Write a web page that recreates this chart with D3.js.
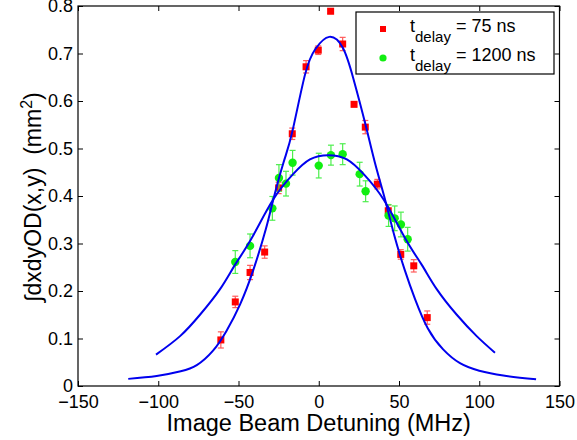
<!DOCTYPE html>
<html>
<head>
<meta charset="utf-8">
<script src="https://cdn.jsdelivr.net/npm/d3@7"></script>
<style>
  html, body { margin: 0; padding: 0; background: #fff; }
  svg { display: block; font-family: "Liberation Sans", Arial, sans-serif; }
  text { white-space: pre; }
</style>
</head>
<body>
<div id="chart"></div>
<script>
// ---- data ----
const xTicks = [-150, -100, -50, 0, 50, 100, 150];
const xTickLabels = ["\u2212150", "\u2212100", "\u221250", "0", "50", "100", "150"];
const yTicks = [0, 0.1, 0.2, 0.3, 0.4, 0.5, 0.6, 0.7, 0.8];
const yTickLabels = ["0", "0.1", "0.2", "0.3", "0.4", "0.5", "0.6", "0.7", "0.8"];

// t_delay = 75 ns (red squares)
const redX   = [-61, -52, -42.8, -33.7, -25, -16.5, -7.9, -0.3, 7.4, 14.9, 22, 29, 36.5, 43.3, 51.1, 59.2, 67.6];
const redY   = [0.097, 0.177, 0.239, 0.282, 0.417, 0.531, 0.672, 0.707, 0.789, 0.720, 0.593, 0.545, 0.425, 0.369, 0.277, 0.253, 0.144];
const redErr = [0.017, 0.012, 0.015, 0.013, 0.012, 0.012, 0.013, 0.009, 0.005, 0.014, 0.005, 0.014, 0.010, 0.012, 0.010, 0.013, 0.014];

// t_delay = 1200 ns (green circles)
const greenX   = [-52, -42.8, -28.9, -24.8, -20.4, -16.3, 0, 7.6, 14.9, 25.5, 29.2, 43.5, 47.3, 51.2, 55.4];
const greenY   = [0.261, 0.295, 0.374, 0.438, 0.426, 0.470, 0.464, 0.486, 0.488, 0.446, 0.410, 0.359, 0.353, 0.340, 0.309];
const greenErr = [0.024, 0.025, 0.025, 0.028, 0.026, 0.026, 0.026, 0.021, 0.022, 0.025, 0.022, 0.023, 0.026, 0.026, 0.025];

// fitted curves
const fitRedX = [-118.7, -101, -86, -76, -66, -57.5, -49, -40.8, -33, -28.5, -22, -16.5, -8.6, -2, 6.5, 15, 21.5, 29, 35, 41.5, 47, 53.5, 60, 68, 77.5, 88, 100, 115, 135.4];
const fitRedY = [0.015, 0.021, 0.031, 0.044, 0.074, 0.116, 0.172, 0.244, 0.330, 0.390, 0.470, 0.535, 0.655, 0.710, 0.735, 0.712, 0.648, 0.552, 0.470, 0.390, 0.318, 0.245, 0.183, 0.121, 0.077, 0.048, 0.032, 0.022, 0.014];
const fitGreenX = [-101.4, -86.4, -74, -61.5, -52.2, -42, -28.5, -16, -5.5, 6, 17.5, 28, 40.5, 54, 64.2, 73.5, 86, 98.4, 109.8];
const fitGreenY = [0.066, 0.105, 0.150, 0.204, 0.255, 0.310, 0.392, 0.446, 0.477, 0.486, 0.477, 0.446, 0.392, 0.310, 0.255, 0.204, 0.150, 0.105, 0.070];

const legendLabels = ["75 ns", "1200 ns"];
const xLabel = "Image Beam Detuning (MHz)";

// ---- drawing ----
const W = 577, H = 440;
const L = 78, R = 559.5, T = 6, B = 386;

const svg = d3.select("#chart").append("svg").attr("width", W).attr("height", H);

const x = d3.scaleLinear().domain([-150, 150]).range([L, R]);
const y = d3.scaleLinear().domain([0, 0.8]).range([B, T]);

// axes
const gx = svg.append("g").attr("transform", `translate(0,${B})`)
  .call(d3.axisBottom(x).tickValues(xTicks).tickFormat((d, i) => xTickLabels[i])
        .tickSizeInner(-5).tickSizeOuter(0).tickPadding(9));
const gxt = svg.append("g").attr("transform", `translate(0,${T})`)
  .call(d3.axisTop(x).tickValues(xTicks).tickFormat("").tickSizeInner(-5).tickSizeOuter(0));
const gy = svg.append("g").attr("transform", `translate(${L},0)`)
  .call(d3.axisLeft(y).tickValues(yTicks).tickFormat((d, i) => yTickLabels[i])
        .tickSizeInner(-5).tickSizeOuter(0).tickPadding(5));
const gyr = svg.append("g").attr("transform", `translate(${R},0)`)
  .call(d3.axisRight(y).tickValues(yTicks).tickFormat("").tickSizeInner(-5).tickSizeOuter(0));

[gx, gxt, gy, gyr].forEach(g => {
  g.selectAll(".domain").remove();
  g.selectAll(".tick line").attr("stroke", "#000").attr("stroke-width", 1);
  g.selectAll("text").attr("font-size", 18).attr("fill", "#000")
    .attr("font-family", "'Liberation Sans', Arial, sans-serif");
});

svg.append("rect").attr("x", L).attr("y", T).attr("width", R - L).attr("height", B - T)
  .attr("fill", "none").attr("stroke", "#000").attr("stroke-width", 1.2);

// error bars + markers
function drawSeries(xs, ys, es, barColor, drawMarker) {
  const g = svg.append("g");
  xs.forEach((xv, i) => {
    const cx = x(xv), y0 = y(ys[i] - es[i]), y1 = y(ys[i] + es[i]);
    g.append("line").attr("x1", cx).attr("x2", cx).attr("y1", y0).attr("y2", y1)
      .attr("stroke", barColor).attr("stroke-width", 1.2);
    [y0, y1].forEach(yy => g.append("line").attr("x1", cx - 3).attr("x2", cx + 3)
      .attr("y1", yy).attr("y2", yy).attr("stroke", barColor).attr("stroke-width", 1.2));
  });
  xs.forEach((xv, i) => drawMarker(g, x(xv), y(ys[i])));
}
const redSquare = (g, cx, cy, s = 7) => g.append("rect").attr("x", cx - s / 2).attr("y", cy - s / 2)
  .attr("width", s).attr("height", s).attr("fill", "#ff0000");
const greenCircle = (g, cx, cy, r = 4.2) => g.append("circle").attr("cx", cx).attr("cy", cy)
  .attr("r", r).attr("fill", "#11ee11");

drawSeries(redX, redY, redErr, "#ff5a5a", redSquare);
drawSeries(greenX, greenY, greenErr, "#4dee4d", greenCircle);

// fit curves
const line = d3.line().x(d => x(d[0])).y(d => y(d[1])).curve(d3.curveNatural);
svg.append("path").datum(d3.zip(fitRedX, fitRedY)).attr("d", line)
  .attr("fill", "none").attr("stroke", "#0000ee").attr("stroke-width", 2);
svg.append("path").datum(d3.zip(fitGreenX, fitGreenY)).attr("d", line)
  .attr("fill", "none").attr("stroke", "#0000ee").attr("stroke-width", 2);

// axis labels
svg.append("text").attr("x", (L + R) / 2).attr("y", 431).attr("text-anchor", "middle")
  .attr("font-size", 23.5).attr("fill", "#000").text(xLabel);

const yl = svg.append("text").attr("transform", "translate(41,197) rotate(-90)")
  .attr("text-anchor", "middle").attr("font-size", 23).attr("fill", "#000");
yl.append("tspan").text("\u222BdxdyOD(x,y)  (mm");
yl.append("tspan").attr("font-size", 16).attr("dy", -9).text("2");
yl.append("tspan").attr("dy", 9).text(")");

// legend
const lg = svg.append("g");
lg.append("rect").attr("x", 356).attr("y", 12).attr("width", 198).attr("height", 62)
  .attr("fill", "#fff").attr("stroke", "#000").attr("stroke-width", 1.2);
redSquare(lg, 383, 29, 6);
greenCircle(lg, 383, 58, 3.6);
legendLabels.forEach((lab, i) => {
  const t = lg.append("text").attr("x", 410).attr("y", 32 + i * 29).attr("font-size", 18).attr("fill", "#000");
  t.append("tspan").text("t");
  t.append("tspan").attr("font-size", 15).attr("dy", 10).text("delay");
  t.append("tspan").attr("dy", -10).text(" = " + lab);
});
</script>
</body>
</html>
